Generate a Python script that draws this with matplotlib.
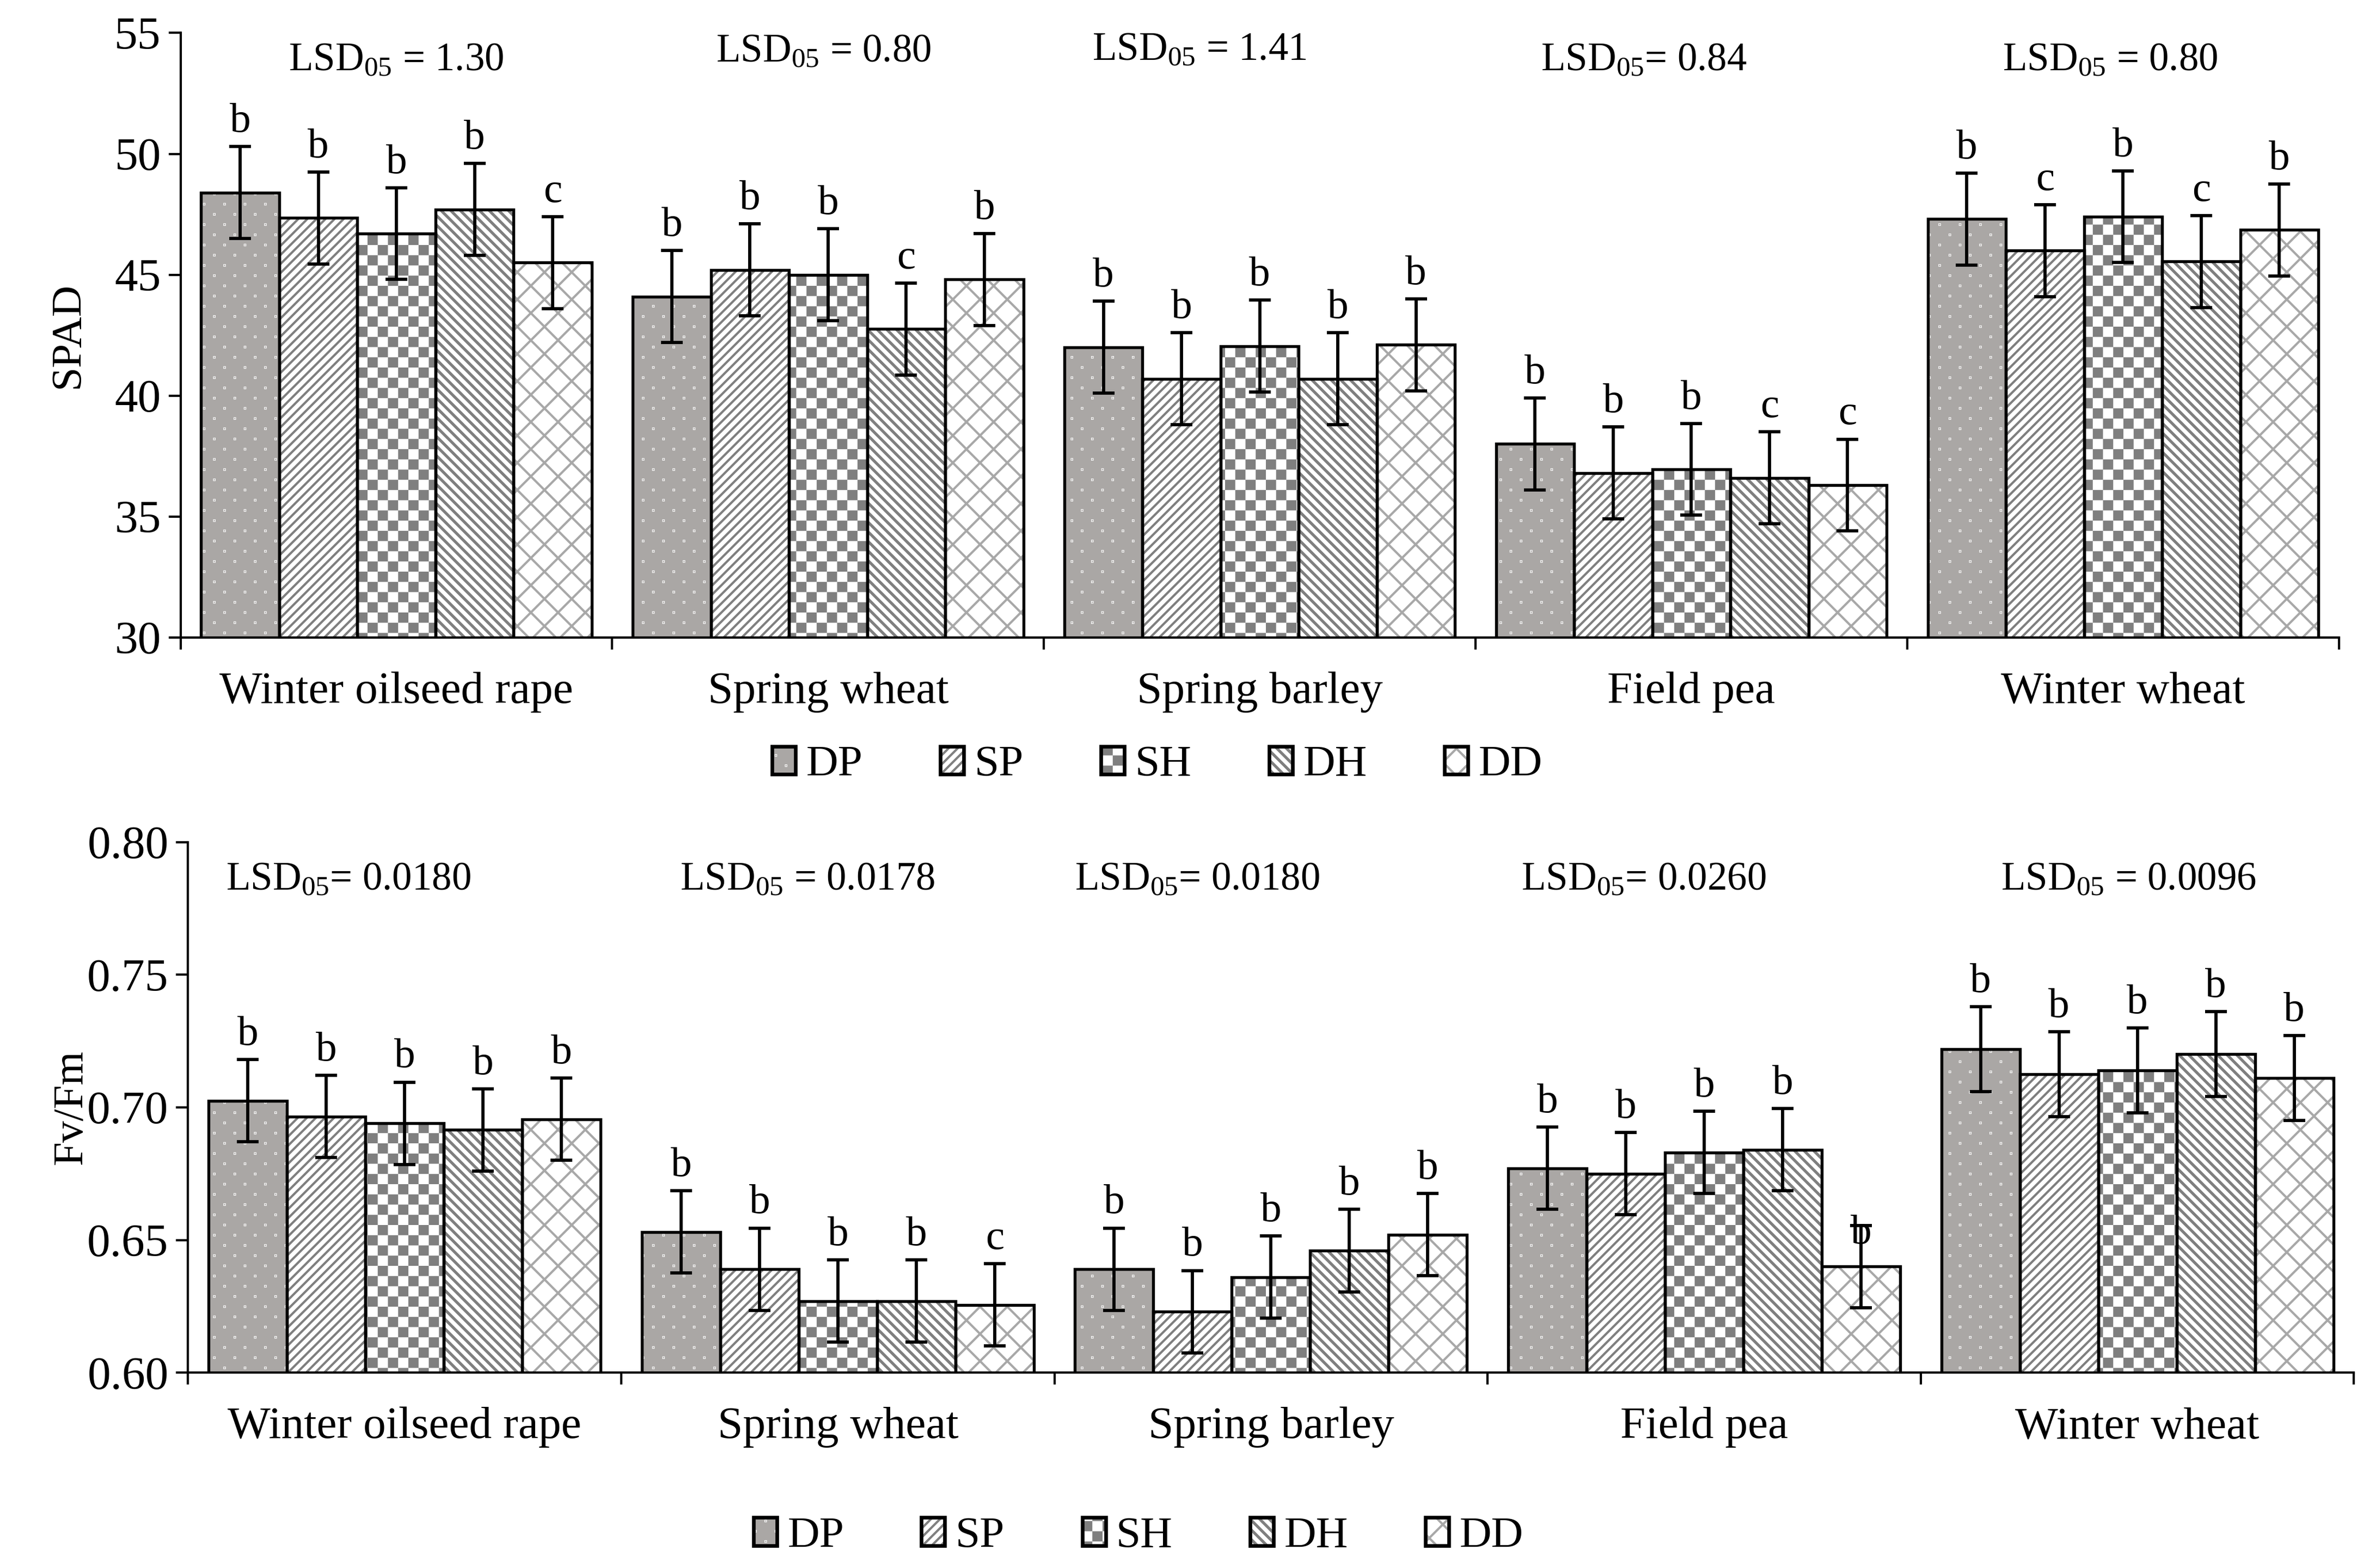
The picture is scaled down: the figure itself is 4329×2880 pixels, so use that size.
import warnings

import numpy as np
import matplotlib
matplotlib.use("Agg")
import matplotlib.pyplot as plt
import matplotlib.hatch as mhatch
import matplotlib.patches as mpatches
from matplotlib.path import Path

warnings.filterwarnings("ignore", message="hatch must consist")

# ---------------------------------------------------------------- data
crops = ["Winter oilseed rape", "Spring wheat", "Spring barley",
         "Field pea", "Winter wheat"]
treatments = ["DP", "SP", "SH", "DH", "DD"]

spad_DP = [48.4, 44.1, 42.0, 38.0, 47.3]
spad_SP = [47.35, 45.2, 40.7, 36.8, 46.0]
spad_SH = [46.7, 45.0, 42.05, 36.95, 47.4]
spad_DH = [47.7, 42.75, 40.7, 36.6, 45.55]
spad_DD = [45.5, 44.8, 42.1, 36.3, 46.85]
spad_err = [1.9, 1.9, 1.9, 1.9, 1.9]
spad_letters = [["b", "b", "b", "b", "b"],
                ["b", "b", "b", "b", "c"],
                ["b", "b", "b", "b", "b"],
                ["b", "c", "b", "c", "c"],
                ["c", "b", "b", "c", "b"]]
spad_lsd = ["LSD$_{\\mathregular{05}}$ = 1.30", "LSD$_{\\mathregular{05}}$ = 0.80",
            "LSD$_{\\mathregular{05}}$ = 1.41", "LSD$_{\\mathregular{05}}$= 0.84",
            "LSD$_{\\mathregular{05}}$ = 0.80"]

fvfm_DP = [0.7025, 0.653, 0.639, 0.677, 0.722]
fvfm_SP = [0.6965, 0.639, 0.623, 0.675, 0.7125]
fvfm_SH = [0.694, 0.627, 0.636, 0.683, 0.714]
fvfm_DH = [0.6915, 0.627, 0.646, 0.684, 0.720]
fvfm_DD = [0.6955, 0.6255, 0.652, 0.640, 0.711]
fvfm_err = [0.0155, 0.0155, 0.0155, 0.0155, 0.016]
fvfm_letters = [["b", "b", "b", "b", "b"],
                ["b", "b", "b", "b", "b"],
                ["b", "b", "b", "b", "b"],
                ["b", "b", "b", "b", "b"],
                ["b", "c", "b", "b", "b"]]
fvfm_lsd = ["LSD$_{\\mathregular{05}}$= 0.0180", "LSD$_{\\mathregular{05}}$ = 0.0178",
            "LSD$_{\\mathregular{05}}$= 0.0180", "LSD$_{\\mathregular{05}}$= 0.0260",
            "LSD$_{\\mathregular{05}}$ = 0.0096"]

# ---------------------------------------------------------------- hatches
DPI = 300
HALF = 1.0 / 72 / 2   # half of the hatch stroke (1 pt) in tile units


class PolyHatch(mhatch.HatchPatternBase):
    char = None

    def __init__(self, hatch, density):
        polys = self.polys() if (hatch and self.char in hatch) else []
        self.verts = [np.asarray(p, float) for p in polys]
        self.num_vertices = sum(len(p) + 1 for p in self.verts)

    def set_vertices_and_codes(self, vertices, codes):
        i = 0
        for p in self.verts:
            n = len(p)
            vertices[i:i + n] = p
            vertices[i + n] = p[0]
            codes[i] = Path.MOVETO
            codes[i + 1:i + n] = Path.LINETO
            codes[i + n] = Path.CLOSEPOLY
            i += n + 1


class CheckerHatch(PolyHatch):
    char = "k"

    def polys(self):
        n = 16
        s = 1.0 / n
        e = HALF
        return [[(i * s + e, j * s + e), ((i + 1) * s - e, j * s + e),
                 ((i + 1) * s - e, (j + 1) * s - e), (i * s + e, (j + 1) * s - e)]
                for i in range(n) for j in range(n) if (i + j) % 2 == 0]


class StripeHatch(PolyHatch):
    char = "w"

    def polys(self):
        n = 17
        frac = 0.42
        wf = max(frac / (n * np.sqrt(2)) - 2 * HALF, 0.0005)
        h = wf / 2 * np.sqrt(2)
        out = []
        for k in range(-2, 2 * n + 3):
            c = k / n
            out.append([(-0.1, c + 0.1 + h), (1.1, c - 1.1 + h),
                        (1.1, c - 1.1 - h), (-0.1, c + 0.1 - h)])
        return out


class DotHatch(PolyHatch):
    char = "d"

    def polys(self):
        n = 16
        s = 1.0 / n
        t = 0.2 / DPI
        out = []
        for j in range(n + 1):
            y = j * s
            if j % 2 == 0:
                xs = np.arange(n // 2 + 1) * 2 * s
            else:
                xs = (np.arange(n // 2) * 2 + 1) * s
            for x in xs:
                out.append([(x - t, y - t), (x + t, y - t),
                            (x + t, y + t), (x - t, y + t)])
        return out


mhatch._hatch_types.extend([CheckerHatch, StripeHatch, DotHatch])

FACE = {"DP": "#aaa7a5", "SP": "white", "SH": "white", "DH": "white", "DD": "white"}
HCOL = {"DP": "white", "SP": "#7f7f7f", "SH": "#7f7f7f", "DH": "#7f7f7f", "DD": "#a8a8a8"}
HATCH = {"DP": "d", "SP": "//////", "SH": "k", "DH": "w", "DD": "xx"}

BAR_W = 0.181

plt.rcParams["font.family"] = ["Liberation Serif", "DejaVu Serif"]
plt.rcParams["mathtext.fontset"] = "custom"
plt.rcParams["mathtext.rm"] = "Liberation Serif"
plt.rcParams["mathtext.it"] = "Liberation Serif:italic"
plt.rcParams["hatch.linewidth"] = 1.0


def draw_panel(ax, series, err, letters, lsd, lsd_dx, lsd_y, ylim, yticks,
               fmt, ylabel, label_x, letter_shift=None):
    x = np.arange(len(crops))
    for i, t in enumerate(treatments):
        xs = x + (i - 2) * BAR_W
        vals = series[i]
        ax.bar(xs, vals, BAR_W, color=FACE[t], edgecolor=HCOL[t],
               hatch=HATCH[t], linewidth=0, zorder=2)
        ax.bar(xs, vals, BAR_W, fill=False, edgecolor="black",
               linewidth=1.3, zorder=3)
        ax.errorbar(xs, vals, yerr=err, fmt="none", ecolor="black",
                    elinewidth=1.4, capsize=4.7, capthick=1.4, zorder=4)
        for j, (xx, v, e, lab) in enumerate(zip(xs, vals, err, letters[i])):
            dy = 6.5
            if letter_shift and (i, j) in letter_shift:
                dy = letter_shift[(i, j)]
            ax.annotate(lab, (xx, v + e), xytext=(0, dy),
                        textcoords="offset points", ha="center",
                        va="baseline", fontsize=18.5, zorder=5)
    for j, txt in enumerate(lsd):
        ax.text(j + lsd_dx[j], lsd_y[j], txt,
                ha="center", va="baseline", fontsize=17.5)

    ax.set_xlim(-0.5, len(crops) - 0.5)
    ax.set_ylim(*ylim)
    ax.set_yticks(yticks)
    ax.set_yticklabels([fmt.format(v) for v in yticks])
    ax.set_xticks(np.arange(-0.5, len(crops), 1.0))
    ax.set_xticks(x, crops, minor=True)
    ax.tick_params(axis="x", which="major", length=5.3, width=1.0,
                   labelbottom=False, direction="out")
    ax.tick_params(axis="x", which="minor", length=0, pad=15, labelsize=20)
    ax.tick_params(axis="y", length=5.3, width=1.0, pad=3.3, labelsize=20.5,
                   direction="out")
    for side in ("top", "right"):
        ax.spines[side].set_visible(False)
    for side in ("left", "bottom"):
        ax.spines[side].set_linewidth(1.0)
    ax.set_ylabel(ylabel, fontsize=19)
    ax.yaxis.set_label_coords(label_x, 0.5)


def legend_handles():
    hs = []
    for t in treatments:
        h1 = mpatches.Patch(facecolor=FACE[t], edgecolor=HCOL[t],
                            hatch=HATCH[t], linewidth=0)
        h2 = mpatches.Patch(fill=False, edgecolor="black", linewidth=1.6)
        hs.append((h1, h2))
    return hs


fig = plt.figure(figsize=(4329 / DPI, 2880 / DPI), dpi=DPI)
ax1 = fig.add_axes([0.0766, 0.5935, 0.9157, 0.3855])
ax2 = fig.add_axes([0.0798, 0.1246, 0.9189, 0.3384])

draw_panel(ax1, [spad_DP, spad_SP, spad_SH, spad_DH, spad_DD], spad_err,
           spad_letters, spad_lsd,
           [0.0, -0.01, -0.14, -0.11, -0.03],
           [53.45, 53.82, 53.88, 53.45, 53.45],
           (30, 55), [30, 35, 40, 45, 50, 55], "{:.0f}", "SPAD", -0.043)

draw_panel(ax2, [fvfm_DP, fvfm_SP, fvfm_SH, fvfm_DH, fvfm_DD], fvfm_err,
           fvfm_letters, fvfm_lsd,
           [-0.13, -0.07, -0.17, -0.14, -0.02],
           [0.782, 0.782, 0.782, 0.782, 0.782],
           (0.60, 0.80), [0.60, 0.65, 0.70, 0.75, 0.80], "{:.2f}", "Fv/Fm",
           -0.045, letter_shift={(4, 3): -8.0})

for xc, yc in ((0.491, 0.512), (0.483, 0.02)):
    fig.legend(legend_handles(), treatments, loc="center",
               bbox_to_anchor=(xc, yc), ncol=5, frameon=False,
               fontsize=19.5, handlelength=0.53, handleheight=0.6,
               handletextpad=0.24, columnspacing=1.75, borderaxespad=0)

fig.savefig("out.png", dpi=DPI)
